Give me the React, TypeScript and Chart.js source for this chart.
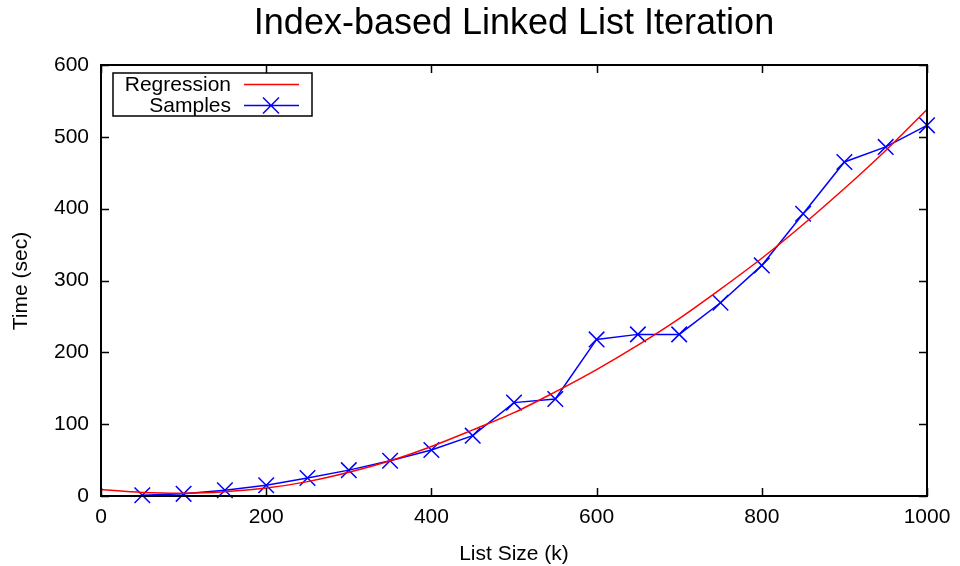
import React, { useEffect, useRef } from "react";
import { Chart, registerables } from "chart.js";

Chart.register(...registerables);

const TITLE = "Index-based Linked List Iteration";
const X_TITLE = "List Size (k)";
const Y_TITLE = "Time (sec)";
const X_TICKS = [0, 200, 400, 600, 800, 1000];
const Y_TICKS = [0, 100, 200, 300, 400, 500, 600];

const sampleSizes = [50, 100, 150, 200, 250, 300, 350, 400, 450, 500, 550, 600, 650, 700, 750, 800, 850, 900, 950, 1000];
const sampleTimes = [1, 3, 8, 15, 25, 36, 49, 64, 84, 130, 135, 218, 225, 225, 269, 321, 393, 465, 486, 516];

const regressionSizes = [0, 50, 100, 150, 200, 250, 300, 350, 400, 450, 500, 550, 600, 650, 700, 750, 800, 850, 900, 950, 1000];
const regressionTimes = [9, 5, 4, 6, 11, 20, 33, 49, 69, 92, 116, 145, 176, 210, 247, 288, 331, 378, 428, 481, 538];

const FONT = "'Liberation Sans', Arial, Helvetica, sans-serif";

const framePlugin = {
  id: "frame",
  afterDraw(chart: any) {
    const { ctx, chartArea } = chart;
    const { left, right, top, bottom } = chartArea;
    const xs = chart.scales.x;
    const ys = chart.scales.y;
    ctx.save();
    ctx.strokeStyle = "#000";
    ctx.lineWidth = 1.5;
    const tl = 8;
    ctx.beginPath();
    X_TICKS.forEach((v) => {
      const px = Math.round(xs.getPixelForValue(v)) + 0.5;
      ctx.moveTo(px, bottom);
      ctx.lineTo(px, bottom - tl);
      ctx.moveTo(px, top);
      ctx.lineTo(px, top + tl);
    });
    Y_TICKS.forEach((v) => {
      const py = Math.round(ys.getPixelForValue(v)) + 0.5;
      ctx.moveTo(left, py);
      ctx.lineTo(left + tl, py);
      ctx.moveTo(right, py);
      ctx.lineTo(right - tl, py);
    });
    ctx.stroke();
    ctx.lineWidth = 2;
    ctx.strokeRect(left, top, right - left, bottom - top);

    // title
    ctx.fillStyle = "#000";
    ctx.font = `36px ${FONT}`;
    ctx.textAlign = "center";
    ctx.textBaseline = "alphabetic";
    ctx.fillText(TITLE, (left + right) / 2, 34);

    // axis titles
    ctx.font = `21px ${FONT}`;
    ctx.fillText(X_TITLE, (left + right) / 2, 560);
    ctx.save();
    ctx.translate(27, 281);
    ctx.rotate(-Math.PI / 2);
    ctx.fillText(Y_TITLE, 0, 0);
    ctx.restore();

    // legend
    const bx = 113, by = 73, bw = 199, bh = 43;
    ctx.fillStyle = "#fff";
    ctx.fillRect(bx, by, bw, bh);
    ctx.lineWidth = 1.5;
    ctx.strokeStyle = "#000";
    ctx.strokeRect(bx, by, bw, bh);
    ctx.fillStyle = "#000";
    ctx.font = `21px ${FONT}`;
    ctx.textAlign = "right";
    ctx.textBaseline = "middle";
    ctx.fillText("Regression", 231, 85);
    ctx.fillText("Samples", 231, 106);
    ctx.lineWidth = 1.5;
    ctx.strokeStyle = "#ff0000";
    ctx.beginPath();
    ctx.moveTo(244, 84.5);
    ctx.lineTo(299, 84.5);
    ctx.stroke();
    ctx.strokeStyle = "#0000ff";
    ctx.beginPath();
    ctx.moveTo(244, 105.5);
    ctx.lineTo(299, 105.5);
    const mx = 271, my = 105.5, r = 8;
    ctx.moveTo(mx - r, my - r);
    ctx.lineTo(mx + r, my + r);
    ctx.moveTo(mx - r, my + r);
    ctx.lineTo(mx + r, my - r);
    ctx.stroke();
    ctx.restore();
  },
};

export default function App() {
  const ref = useRef<HTMLCanvasElement>(null);
  useEffect(() => {
    if (!ref.current) return;
    const chart = new Chart(ref.current, {
      type: "line",
      data: {
        datasets: [
          {
            label: "Regression",
            data: regressionSizes.map((x, i) => ({ x, y: regressionTimes[i] })),
            borderColor: "#ff0000",
            borderWidth: 1.5,
            pointRadius: 0,
            cubicInterpolationMode: "monotone",
            fill: false,
          },
          {
            label: "Samples",
            data: sampleSizes.map((x, i) => ({ x, y: sampleTimes[i] })),
            borderColor: "#0000ff",
            borderWidth: 1.5,
            pointStyle: "crossRot",
            pointRadius: 11,
            pointBorderWidth: 1.5,
            pointBorderColor: "#0000ff",
            fill: false,
          },
        ],
      },
      options: {
        responsive: false,
        animation: false,
        clip: false,
        layout: { padding: { top: 65, right: 33, left: 0, bottom: 0 } },
        plugins: {
          legend: { display: false },
          title: { display: false },
          tooltip: { enabled: false },
        },
        scales: {
          x: {
            type: "linear",
            min: 0,
            max: 1000,
            afterFit: (s: any) => { s.height = 70; },
            afterBuildTicks: (s: any) => { s.ticks = X_TICKS.map((v) => ({ value: v })); },
            grid: { display: false, drawTicks: false },
            border: { display: false },
            ticks: {
              color: "#000",
              font: { family: FONT, size: 21 },
              padding: 9,
              maxRotation: 0,
              callback: (v: any) => String(v),
            },
          },
          y: {
            type: "linear",
            min: 0,
            max: 600,
            afterFit: (s: any) => { s.width = 101; },
            afterBuildTicks: (s: any) => { s.ticks = Y_TICKS.map((v) => ({ value: v })); },
            grid: { display: false, drawTicks: false },
            border: { display: false },
            ticks: {
              color: "#000",
              font: { family: FONT, size: 21 },
              padding: 12,
              callback: (v: any) => String(v),
            },
          },
        },
      },
      plugins: [framePlugin],
    });
    return () => chart.destroy();
  }, []);
  return (
    <div style={{ position: "absolute", left: 0, top: 0, width: 960, height: 566, background: "#fff" }}>
      <canvas ref={ref} width={960} height={566} />
    </div>
  );
}
